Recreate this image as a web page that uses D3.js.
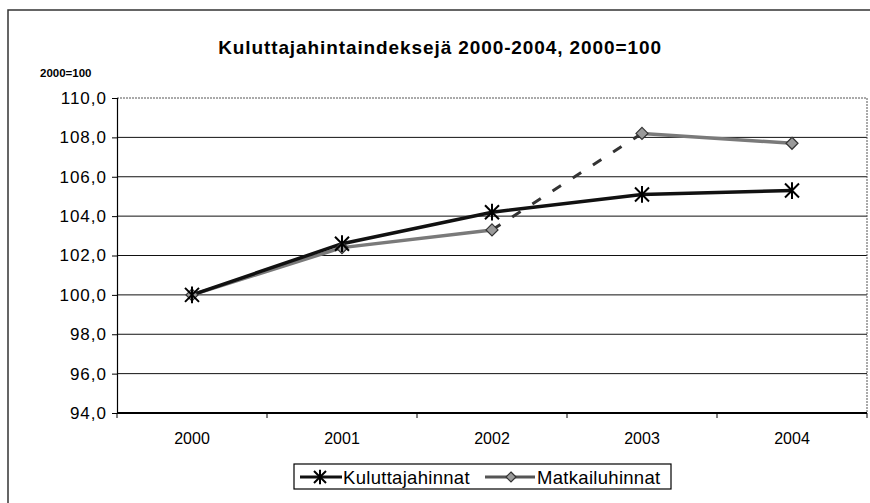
<!DOCTYPE html>
<html>
<head>
<meta charset="utf-8">
<script src="https://cdn.jsdelivr.net/npm/d3@7"></script>
<style>
body { margin: 0; background: #fff; }
text { font-family: Arial, "Liberation Sans", sans-serif; fill: #000; }
</style>
</head>
<body>
<div id="chart"></div>
<script>
// data
var years = ["2000", "2001", "2002", "2003", "2004"];
var kuluttaja = [100.0, 102.6, 104.2, 105.1, 105.3];
var matkailu = [100.0, 102.4, 103.3, 108.2, 107.7];
var y_ticks = [94, 96, 98, 100, 102, 104, 106, 108, 110];

var width = 870, height = 503;
var margin = {top: 98, left: 117};

var svg = d3.select("#chart").append("svg")
    .attr("width", width)
    .attr("height", height);

// outer frame
svg.append("rect")
    .attr("x", 8).attr("y", 10)
    .attr("width", 880).attr("height", 520)
    .attr("fill", "none").attr("stroke", "#333").attr("stroke-width", 1.5);

svg.append("text")
    .attr("x", 440).attr("y", 54)
    .attr("text-anchor", "middle")
    .attr("font-size", "19px").attr("font-weight", "bold")
    .attr("letter-spacing", "0.9px")
    .text("Kuluttajahintaindeksejä  2000-2004, 2000=100");

svg.append("text")
    .attr("x", 40).attr("y", 77)
    .attr("font-size", "11.5px").attr("font-weight", "bold")
    .text("2000=100");

var g = svg.append("g").attr("transform", `translate(${margin.left},${margin.top})`);

var x = d3.scaleBand().domain(years).range([0, 750]);
var y = d3.scaleLinear().domain([94, 110]).range([315, 0]);

// grid lines
g.selectAll(".grid").data(y_ticks.filter(d => d > 94 && d < 110))
    .enter().append("line")
    .attr("x1", 0).attr("x2", 750)
    .attr("y1", d => y(d)).attr("y2", d => y(d))
    .attr("stroke", "#111").attr("stroke-width", 1);

// plot area top and right edge
g.append("path")
    .attr("d", `M0,${y(110)}H750V${y(94)}`)
    .attr("fill", "none").attr("stroke", "#555").attr("stroke-width", 1)
    .attr("stroke-dasharray", "2,1");

// axes
var yAxis = d3.axisLeft(y).tickValues(y_ticks).tickSize(5)
    .tickFormat(d => d3.format(".1f")(d).replace(".", ","));
var ya = g.append("g").call(yAxis);
ya.select(".domain").attr("stroke", "#000").attr("stroke-width", 1.2);
ya.selectAll("text").attr("font-size", "17px").attr("letter-spacing", "1px")
    .attr("x", -10).attr("fill", "#000")
    .style("font-family", "Arial, 'Liberation Sans', sans-serif");

var xAxis = d3.axisBottom(x).tickSize(0).tickPadding(20);
var xa = g.append("g").attr("transform", `translate(0,${y(94)})`).call(xAxis);
xa.select(".domain").remove();
xa.selectAll("text").attr("font-size", "16px").attr("fill", "#000")
    .style("font-family", "Arial, 'Liberation Sans', sans-serif");
xa.append("line").attr("x1", 0).attr("x2", 750).attr("stroke", "#000").attr("stroke-width", 2);
xa.selectAll(".bnd").data(d3.range(years.length + 1))
    .enter().append("line")
    .attr("x1", d => d * x.bandwidth()).attr("x2", d => d * x.bandwidth())
    .attr("y1", 0).attr("y2", 5)
    .attr("stroke", "#000");

var cx = (d, i) => x(years[i]) + x.bandwidth() / 2;

// Matkailuhinnat: solid 2000-2002, dashed 2002-2003, solid 2003-2004
var line = d3.line().x((d, i) => cx(d, i)).y(d => y(d));
var mline = d3.line().x(d => cx(null, d)).y(d => y(matkailu[d]));
g.append("path").attr("d", mline([0, 1, 2]))
    .attr("fill", "none").attr("stroke", "#7a7a7a").attr("stroke-width", 3.5);
g.append("path").attr("d", mline([2, 3]))
    .attr("fill", "none").attr("stroke", "#333").attr("stroke-width", 3)
    .attr("stroke-dasharray", "10,14");
g.append("path").attr("d", mline([3, 4]))
    .attr("fill", "none").attr("stroke", "#7a7a7a").attr("stroke-width", 3.5);

g.append("path").attr("d", line(kuluttaja))
    .attr("fill", "none").attr("stroke", "#111").attr("stroke-width", 3.5);

function diamond(sel, px, py, r) {
    sel.append("path")
        .attr("d", `M${px},${py - r}L${px + r},${py}L${px},${py + r}L${px - r},${py}Z`)
        .attr("fill", "#9a9a9a").attr("stroke", "#333").attr("stroke-width", 1.2);
}
function asterisk(sel, px, py, r) {
    sel.append("path")
        .attr("d", `M${px - r},${py - r}L${px + r},${py + r}M${px - r},${py + r}L${px + r},${py - r}M${px},${py - r * 1.2}V${py + r * 1.2}`)
        .attr("stroke", "#000").attr("stroke-width", 2);
}

matkailu.forEach((v, i) => diamond(g, cx(v, i), y(v), 6));
kuluttaja.forEach((v, i) => asterisk(g, cx(v, i), y(v), 7));

// legend
var lg = svg.append("g");
lg.append("rect").attr("x", 294).attr("y", 464).attr("width", 377).attr("height", 25)
    .attr("fill", "#fff").attr("stroke", "#000").attr("stroke-width", 1.2);
lg.append("line").attr("x1", 300).attr("x2", 342).attr("y1", 477).attr("y2", 477)
    .attr("stroke", "#111").attr("stroke-width", 3);
asterisk(lg, 320, 477, 6);
lg.append("text").attr("x", 343).attr("y", 484).attr("font-size", "18.5px")
    .attr("letter-spacing", "0.3px").text("Kuluttajahinnat");
lg.append("line").attr("x1", 485).attr("x2", 535).attr("y1", 477).attr("y2", 477)
    .attr("stroke", "#555").attr("stroke-width", 3);
diamond(lg, 511, 477, 5);
lg.append("text").attr("x", 537).attr("y", 484).attr("font-size", "18.5px")
    .attr("letter-spacing", "0.3px").text("Matkailuhinnat");
</script>
</body>
</html>
